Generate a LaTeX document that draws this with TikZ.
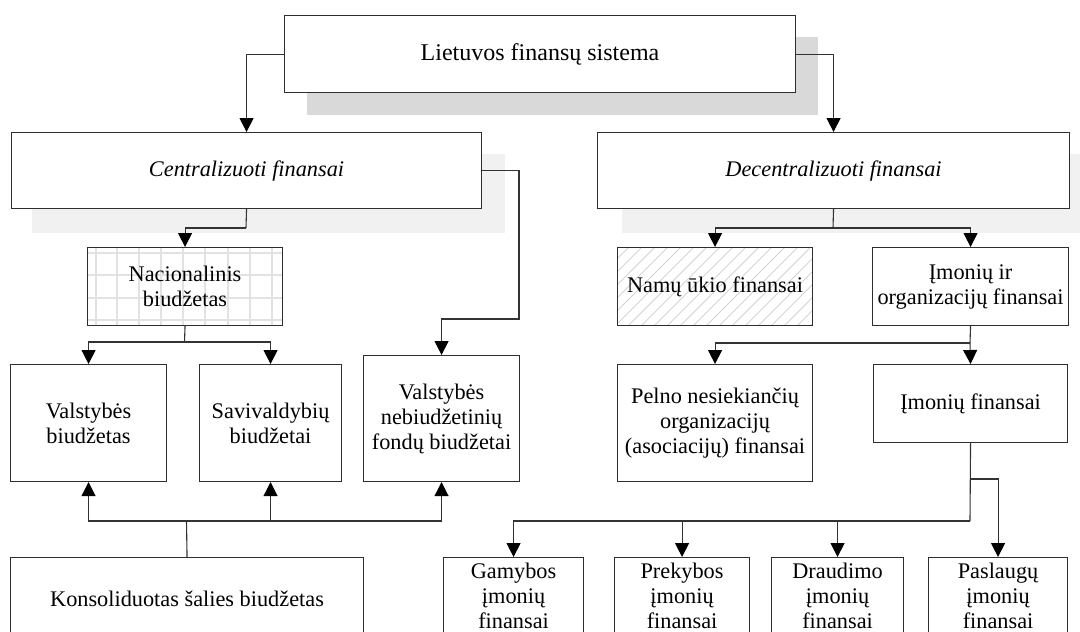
\documentclass[tikz,border=0pt]{standalone}
\usepackage{fontspec}
\setmainfont{Liberation Serif}
\usetikzlibrary{arrows.meta,calc}
\definecolor{boxline}{HTML}{2E2E2E}
\definecolor{linkc}{HTML}{333333}
\definecolor{shadowA}{HTML}{D9D9D9}
\definecolor{shadowB}{HTML}{F1F1F1}
\definecolor{gridc}{HTML}{E2E2E2}
\definecolor{hatchc}{HTML}{D4D4D4}
\begin{document}
\begin{tikzpicture}[x=1pt,y=-1pt,
  every node/.style={font=\fontsize{22.3}{25}\selectfont},
  box/.style={draw=boxline,line width=1.1pt,fill=white,inner sep=0pt,align=center,anchor=north west},
  bare/.style={box,fill=none},
  link/.style={draw=linkc,line width=1.1pt},
  arr/.style={link,-{Triangle[length=14pt,width=14pt,black]}}]
\useasboundingbox (0,0) rectangle (1080,632);
\clip (0,0) rectangle (1080,632);

% drop shadows of the three upper boxes
\fill[shadowA] (307,37) rectangle (818,115);
\fill[shadowB] (32,154) rectangle (505,233);
\fill[shadowB] (622,154) rectangle (1090,233);

% grid fill behind the national budget box
\begin{scope}
  \clip (87,247) rectangle (282,325);
  \fill[white] (87,247) rectangle (282,325);
  \foreach \gx in {96,117,139,161,183,205,228,250,272}
    \draw[gridc,line width=2.5pt] (\gx,240) -- (\gx,330);
  \foreach \gy in {253,275,298,320}
    \draw[gridc,line width=2.5pt] (80,\gy) -- (290,\gy);
\end{scope}
% hatch fill behind the household box
\begin{scope}
  \clip (617,247) rectangle (812,325);
  \fill[white] (617,247) rectangle (812,325);
  \foreach \hx in {520,533,...,820}
    \draw[hatchc,line width=0.8pt] (\hx,330) -- ++(90,-90);
\end{scope}

% level 0 and 1
\node[box,minimum width=511pt,minimum height=77pt,font=\fontsize{24}{28}\selectfont] (top) at (284,15) {Lietuvos finansų sistema};
\node[box,minimum width=470pt,minimum height=76pt] (cen) at (11,132) {\itshape Centralizuoti finansai};
\node[box,minimum width=472pt,minimum height=76pt] (dec) at (597,132) {\itshape Decentralizuoti finansai};

% level 2
\node[bare,minimum width=195pt,minimum height=78pt] (nac) at (87,247) {Nacionalinis\\biudžetas};
\node[bare,minimum width=195pt,minimum height=78pt] (namu) at (617,247) {Namų ūkio finansai};
\node[box,minimum width=196pt,minimum height=78pt] (imorg) at (872,247) {Įmonių ir\\organizacijų finansai};

% level 3
\node[box,minimum width=156pt,minimum height=117pt] (valst) at (10,364) {Valstybės\\biudžetas};
\node[box,minimum width=142pt,minimum height=117pt] (saviv) at (199,364) {Savivaldybių\\biudžetai};
\node[box,minimum width=156pt,minimum height=126pt] (nebiu) at (363,355) {Valstybės\\nebiudžetinių\\fondų biudžetai};
\node[box,minimum width=195pt,minimum height=117pt] (pelno) at (617,364) {Pelno nesiekiančių\\organizacijų\\(asociacijų) finansai};
\node[box,minimum width=194pt,minimum height=78pt] (imfin) at (873,364) {Įmonių finansai};

% level 4
\node[box,minimum width=353pt,minimum height=82pt] (kons) at (10,557) {Konsoliduotas šalies biudžetas};
\node[box,minimum width=140pt,inner ysep=5pt] (gam) at (443,557) {Gamybos\\įmonių\\finansai};
\node[box,minimum width=135pt,inner ysep=5pt] (prek) at (614,557) {Prekybos\\įmonių\\finansai};
\node[box,minimum width=132pt,inner ysep=5pt] (draud) at (771,557) {Draudimo\\įmonių\\finansai};
\node[box,minimum width=139pt,inner ysep=5pt] (pasl) at (928,557) {Paslaugų\\įmonių\\finansai};

% junction points
\coordinate (k1) at (519,319);
\coordinate (kc) at (246,228);
\coordinate (kd) at (833,228);
\coordinate (kn) at (184.5,342);
\coordinate (ko) at (970,343);
\coordinate (kk) at (186.5,521);
\coordinate (kf) at (970,521);
\coordinate (kp) at (970,479);

% connectors
\draw[arr] (top.west) -| (cen.north);
\draw[arr] (top.east) -| (dec.north);
\draw[link] (cen.south) -- (kc);
\draw[arr] (kc) -| (nac.north);
\draw[arr] (cen.east) -| (k1) -| (nebiu.north);
\draw[link] (nac.south) -- (kn);
\draw[arr] (kn) -| (valst.north);
\draw[arr] (kn) -| (saviv.north);
\draw[link] (kons.north) -- (kk);
\draw[arr] (kk) -| (valst.south);
\draw[arr] (kk) -| (saviv.south);
\draw[arr] (kk) -| (nebiu.south);
\draw[link] (dec.south) -- (kd);
\draw[arr] (kd) -| (namu.north);
\draw[arr] (kd) -| (imorg.north);
\draw[link] (imorg.south) -- (ko);
\draw[arr] (ko) -- (imfin.north);
\draw[arr] (ko) -| (pelno.north);
\draw[link] (imfin.south) -- (kf);
\draw[arr] (kf) -| (gam.north);
\draw[arr] (kf) -| (prek.north);
\draw[arr] (kf) -| (draud.north);
\draw[arr] (kp) -| (pasl.north);
\end{tikzpicture}
\end{document}
